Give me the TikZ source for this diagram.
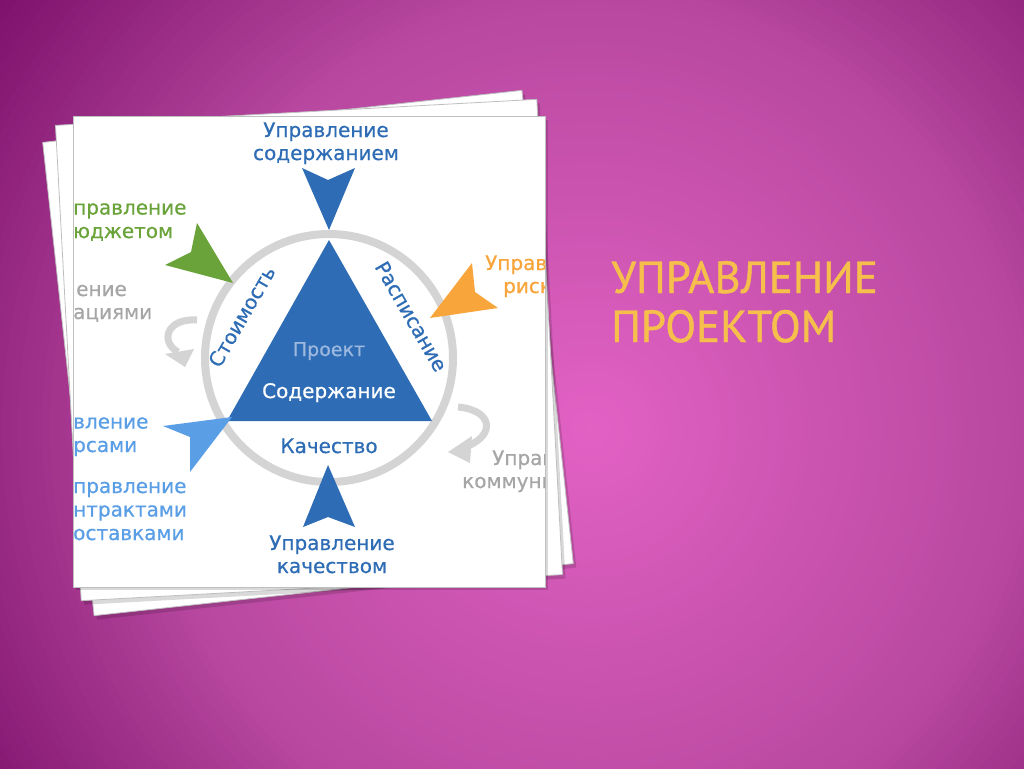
\documentclass[tikz,border=0pt]{standalone}
\usepackage{fontspec}
\setmainfont{DejaVu Sans}
\newfontfamily\diagfont{DejaVu Sans}[FakeBold=0.6]
\newfontfamily\titlefont{PT Sans}[FakeBold=1]
\usetikzlibrary{positioning}

\definecolor{bgInner}{HTML}{E262C4}
\definecolor{bgMid}{HTML}{B848A0}
\definecolor{bgOuter}{HTML}{7E126C}
\definecolor{pmBlue}{HTML}{2E6DB5}
\definecolor{pmLight}{HTML}{5A9EE6}
\definecolor{pmGreen}{HTML}{6AA33A}
\definecolor{pmOrange}{HTML}{F8A53C}
\definecolor{pmGray}{HTML}{A6A6A6}
\definecolor{ringGray}{HTML}{D4D4D4}
\definecolor{pmPale}{HTML}{9DB8DE}
\definecolor{pmGold}{HTML}{F6BF4C}

\begin{document}
\begin{tikzpicture}
        [
            x=1pt, y=-1pt,
            sheet/.style = {
                fill=white,
                draw=black!25,
                line width=0.8pt
            },
            shadow/.style = {
                fill=black,
                opacity=0.15
            },
            area/.style = {
                font=\diagfont\fontsize{20}{23.5}\selectfont,
                align=left,
                anchor=base west,
                inner sep=0pt
            },
            centered/.style = {
                font=\diagfont\fontsize{20}{23}\selectfont,
                align=center,
                anchor=base,
                inner sep=0pt
            },
            turn/.style = {
                draw=ringGray,
                line width=7pt
            },
            title/.style = {
                font=\titlefont\fontsize{45}{49}\selectfont,
                text=pmGold,
                align=left,
                anchor=base west,
                inner sep=0pt
            }
        ]

        \useasboundingbox (0,0) rectangle (1024,768);
        \begin{scope}
            \clip (0,0) rectangle (1024,768);
            % background glow
            \foreach \r in {1100,1092,...,4} {
                \pgfmathtruncatemacro\p{min(100,max(0,(\r-430)/3))}
                \pgfmathtruncatemacro\q{min(100,\r/4.3)}
                \fill[bgOuter!\p!bgMid!\q!bgInner] (590,430) circle (\r);
            }
        \end{scope}

        % paper stack
        \foreach \ang/\cx/\cy in {6.2/308/353, 3.1/309/350} {
            \fill[shadow, rotate around={\ang:(\cx+3,\cy+4)}] (\cx-238,\cy-234) rectangle ++(482,476);
            \draw[sheet, rotate around={\ang:(\cx,\cy)}] (\cx-241,\cy-238) rectangle ++(482,476);
        }
        \fill[shadow] (76,120) rectangle (548,590);
        \draw[sheet] (73,116) rectangle (545,587);

        \begin{scope}
            \clip (73,116) rectangle (545,587);

            \draw[ringGray, line width=8pt] (329,358) circle (124);
            \fill[pmBlue] (329,240) -- (432,421) -- (227,421) -- cycle;

            % pointers
            \fill[pmBlue] (329,230) -- (302,168) -- (328,180) -- (355,168) -- cycle;
            \fill[pmGreen] (233,283) -- (197,223) -- (191,252) -- (165,265) -- cycle;
            \fill[pmOrange] (430,318) -- (472,263) -- (475,292) -- (498,308) -- cycle;
            \fill[pmLight] (232,417) -- (163,426) -- (190,437) -- (190,472) -- cycle;
            \fill[pmBlue] (328,465) -- (303,527) -- (328,517) -- (355,527) -- cycle;

            % grey turns
            \draw[turn] (197,320) .. controls (166,318) and (160,342) .. (178,352);
            \fill[ringGray] (185,367) -- (165,354) -- (194,349) -- cycle;
            \draw[turn] (458,407) .. controls (492,410) and (496,434) .. (468,446);
            \fill[ringGray] (448,452) -- (472,436) -- (470,463) -- cycle;

            \node[centered, text=pmPale, font=\diagfont\fontsize{19}{22}\selectfont] (project) at (329,356) {Проект};
            \node[centered, text=white] (content) at (329,398) {Содержание};
            \node[centered, text=pmBlue] (quality) at (329,453) {Качество};
            \node[centered, text=pmBlue, rotate=60] (cost) at (248,320) {Стоимость};
            \node[centered, text=pmBlue, rotate=-60] (schedule) at (405,320) {Расписание};

            \node[centered, text=pmBlue] (scopemgmt) at (326,160) {Управление\\содержанием};
            \node[centered, text=pmBlue] (qualitymgmt) at (332,573) {Управление\\качеством};

            \node[area, text=pmGreen] (budget) at (73,238) {правление\\юджетом};
            \node[area, text=pmGray] (integr) at (76,296) {ение};
            \node[area, text=pmGray] (integr2) at (73,319) {ациями};
            \node[area, text=pmLight] (resources) at (73,452) {вление\\рсами};
            \node[area, text=pmLight] (contracts) at (73,540) {правление\\нтрактами\\оставками};
            \node[area, text=pmOrange] (risk) at (485,270) {Управ};
            \node[area, text=pmOrange] (risk2) at (503,293) {риск};
            \node[area, text=pmGray] (comm) at (492,465) {Управ};
            \node[area, text=pmGray] (comm2) at (462,488) {коммуни};
        \end{scope}

        \node[title] (heading) at (611,342) {УПРАВЛЕНИЕ\\ПРОЕКТОМ};
    \end{tikzpicture}
\end{document}
